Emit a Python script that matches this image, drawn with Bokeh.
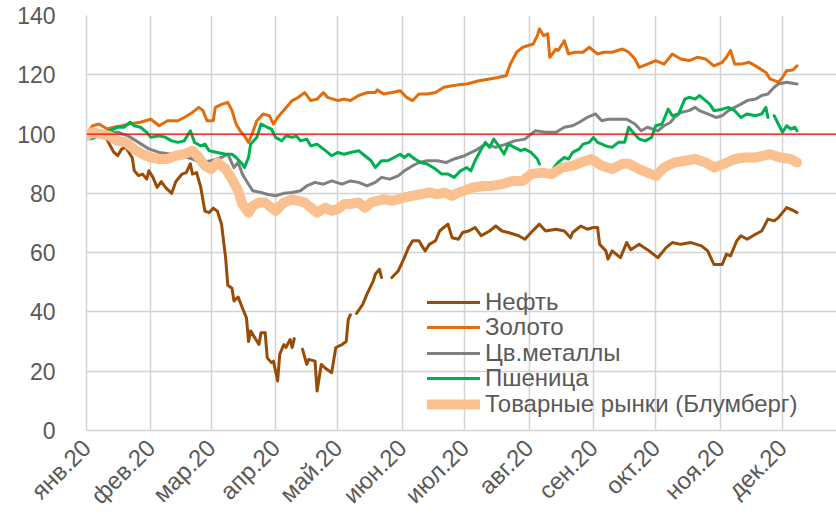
import math
import numpy as np
import pandas as pd
from bokeh.plotting import figure
from bokeh.models import FixedTicker, Span, Range1d, Legend, LegendItem
from bokeh.embed import file_html
from bokeh.resources import INLINE

NAN = float("nan")
START = "2020-01-01"

month_labels = ["янв.20", "фев.20", "мар.20", "апр.20", "май.20", "июн.20",
                "июл.20", "авг.20", "сен.20", "окт.20", "ноя.20", "дек.20"]
y_ticks = [0, 20, 40, 60, 80, 100, 120, 140]

names = ["Нефть", "Золото", "Цв.металлы", "Пшеница", "Товарные рынки (Блумберг)"]

# day offsets from 1 Jan 2020 and index values
oil_day = [0, 6, 10, 13, 15, 17, 19, 22, 23, 25, 27, 29, 30, 32, 34, 36, 38, 41, 43, 46, 48, 50, 51, 53, 55, 57, 59, 61, 63, 65,
           67, 68, 70, 71, 73, 75, 77, 78, 79, 81, 83, 84, 86, 87, 89, 90, 92, 93, 95, 96, 98, 99, 100, 101, 104, 106, 107, 110,
           111, 113, 115, 118, 120, 123, 125, 126, 127, 128, 130, 133, 135, 138, 139, 141, 142, 143, 147, 150, 153, 155, 157, 160,
           161, 163, 165, 168, 170, 172, 174, 176, 179, 181, 184, 187, 190, 194, 197, 200, 203, 208, 211, 214, 218, 221, 226, 230,
           233, 234, 238, 241, 244, 246, 247, 250, 251, 253, 257, 260, 262, 266, 270, 275, 279, 282, 286, 291, 296, 299, 302, 306,
           308, 310, 313, 315, 318, 322, 325, 328, 331, 333, 337, 340, 342]
oil = [100, 101, 98, 94, 92.7, 95, 95.5, 92, 87.6, 86, 86.5, 84.8, 87.6, 85.4, 82, 84, 82, 80, 84, 86.5, 87, 90, 86.5, 87, 82, 74,
       73.5, 75, 74, 69.6, 58, 49, 48, 43.7, 45, 41.4, 38, 30, 33.6, 31.3, 29, 33, 33, 24.5, 22.9, 23.4, 16.7, 25.7, 29, 28, 30.7,
       28, 31, NAN, 27.4, 22.3, 24, 23.4, 13.3, 22.3, 21, 19.5, 28, 29, 30, 37.5, 39, NAN, 39.5, 42.6, 46, 50.4, 52.7, 54.4, 51.6,
       NAN, 51.6, 53.8, 58.3, 61.7, 64, 64, 62.8, 60.6, 62.8, 64, 67.3, 68.5, 69.6, 65, 64.5, 66.8, 67.3, 68.5, 65.7, 67.3, 69,
       67.3, 66.8, 65.7, 64.5, 66.8, 69.6, 67.3, 67.9, 67.3, 65, 66.8, 69, 67.9, 68.5, 68.5, 62.8, 60.6, 57.8, 60.6, 58.3, 63.4,
       61, 62.8, 61, 58.3, 61.7, 63.4, 62.8, 63.4, 62.3, 60.6, 56, 56, 59.5, 58.9, 64, 65.7, 64.5, 66.2, 67.3, 71.3, 70.7, 71.8,
       75.2, 74.3, 73.5]

gold_day = [0, 3, 6, 10, 13, 17, 22, 26, 31, 35, 39, 44, 47, 51, 54, 56, 58, 61, 62, 65, 68, 70, 72, 74, 76, 78, 80, 82, 85, 88,
            90, 92, 95, 99, 102, 105, 108, 111, 114, 116, 121, 124, 127, 131, 135, 139, 140, 143, 147, 151, 154, 157, 160, 164,
            168, 172, 176, 179, 183, 189, 194, 198, 202, 204, 207, 210, 215, 217, 218, 220, 222, 223, 226, 227, 230, 232, 235,
            239, 242, 246, 249, 253, 258, 261, 264, 266, 270, 274, 278, 282, 286, 290, 294, 298, 302, 306, 308, 310, 312, 315,
            319, 322, 327, 329, 333, 335, 337, 340, 342]
gold = [100, 102.8, 103.4, 101.7, 102.3, 102.8, 103.6, 104, 105, 102.8, 104.5, 104.5, 105.6, 107.3, 109, 108, 104.5, 104.5, 109,
        110, 110.7, 108, 103.4, 101, 99.4, 97.2, 100.6, 104.5, 106.8, 106.2, 103.4, 105.6, 108, 111.3, 112.4, 114, 111.3, 111.8,
        114, 112.4, 111.3, 111.8, 111.3, 113, 114, 114, 114.9, 113.5, 114, 114.6, 112.4, 111.3, 113.5, 113.5, 114, 115.8, 116.3,
        116.6, 116.9, 118, 118.6, 119.1, 119.7, 123.6, 127.6, 129.3, 130.4, 133.2, 135.5, 133.2, 133.8, 125.9, 128.7, 128.2,
        131.5, 127, 127.6, 127.6, 129.3, 127, 127.6, 127.6, 128.7, 127.6, 125.3, 122.5, 123.6, 124.8, 123.6, 127, 125.3, 124.8,
        125.9, 125.3, 123, 124.2, 125.9, 128.2, 123.6, 123.6, 124.2, 123, 120.8, 118.6, 117.5, 119.1, 121.4, 121.6, 123]

metals_day = [0, 2, 6, 10, 15, 20, 25, 30, 35, 41, 46, 51, 55, 60, 65, 68, 71, 73, 75, 78, 80, 84, 87, 91, 95, 99, 103, 106, 110,
              114, 118, 123, 127, 131, 135, 139, 142, 146, 150, 153, 157, 160, 164, 169, 173, 177, 182, 187, 192, 197, 202, 206,
              211, 216, 221, 226, 230, 234, 237, 241, 245, 248, 251, 256, 260, 264, 267, 270, 275, 278, 281, 283, 286, 290, 293,
              295, 299, 303, 306, 309, 312, 315, 318, 322, 325, 328, 331, 333, 337, 342]
metals = [98.9, 98.3, 99.4, 100.6, 100.6, 99.4, 97.2, 95, 93.8, 93.2, 92.7, 91.6, 90.4, 91, 92.1, 93.2, 88.7, 90.4, 86.5, 83.1,
          80.9, 80.3, 79.7, 79.2, 80, 80.3, 80.9, 82.5, 83.7, 83.1, 84.2, 83.1, 84.2, 83.7, 82.5, 83.7, 85.4, 84.8, 85.9, 87.6,
          89.3, 90.4, 91, 91, 90.4, 91.6, 92.7, 94.4, 96.6, 95.5, 96.6, 97.7, 98.3, 101.1, 100.6, 100.6, 102.3, 102.8, 103.9,
          105.6, 106.8, 104.5, 105, 105, 105, 103.4, 101.1, 102.3, 101.1, 102.8, 103.9, 105.6, 107.3, 107.9, 109, 107.9, 106.8,
          105.6, 106.2, 107.9, 109, 110.1, 111.3, 111.8, 113, 113.5, 115.8, 116.9, 117.5, 116.9]

wheat_day = [0, 3, 7, 11, 15, 18, 21, 23, 26, 29, 31, 35, 38, 41, 44, 47, 50, 52, 55, 57, 59, 63, 67, 70, 72, 75, 76, 78, 79, 82,
             84, 87, 89, 91, 94, 96, 99, 101, 103, 106, 108, 111, 115, 118, 121, 124, 127, 131, 134, 137, 139, 142, 145, 148,
             151, 153, 155, 158, 161, 164, 168, 171, 174, 177, 180, 183, 185, 187, 190, 192, 194, 196, 199, 201, 203, 206, 209,
             211, 214, 217, 218, 219, 225, 227, 230, 232, 234, 237, 239, 242, 244, 246, 250, 253, 256, 259, 261, 263, 266, 269,
             272, 274, 277, 280, 282, 285, 288, 290, 293, 295, 298, 300, 302, 306, 309, 312, 315, 318, 322, 325, 327, 328, 329,
             331, 333, 335, 337, 339, 341, 342]
wheat = [98.3, 98.9, 100.6, 101.1, 102.3, 102.3, 104, 102.8, 102.3, 100.6, 98.9, 99.4, 98.9, 97.7, 97.2, 97.7, 101.1, 97.2, 96,
         96.6, 94.4, 93.8, 93.2, 93.2, 92.1, 89.9, 88.7, 92.1, 96.6, 98.9, 103.4, 102.3, 101.7, 98.9, 97.7, 99.4, 98.9, 99.4,
         97.7, 98.3, 96, 96.6, 94.4, 92.7, 93.8, 93.2, 93.8, 94.4, 92.7, 91, 88.7, 91, 91, 92.1, 93.2, 92.1, 93.2, 91.6, 90.4,
         89.9, 88.2, 86.5, 86.5, 85.4, 87.6, 88.7, 87.6, 91, 94.9, 97.2, 95.5, 98.3, 95.5, 93.2, 96.6, 95.5, 94.4, 94.9, 93.8,
         91.6, 89.9, NAN, 88.7, 90.4, 92.1, 91.6, 93.8, 94.9, 96.6, 97.2, 98.9, 97.2, 96, 95.5, 97.2, 97.2, 102.3, 100.6, 98.3,
         97.7, 98.9, 102.8, 103.4, 108.4, 106.2, 106.8, 111.8, 112.4, 111.8, 113, 111.3, 110.1, 107.9, 108.4, 109, 107.9, 105.6,
         106.8, 106.2, 106.8, 109, 105.6, NAN, 106.2, 103.4, 100.6, 102.8, 101.7, 102.3, 101.1]

bbg_day = [0, 3, 7, 11, 15, 19, 23, 27, 31, 35, 39, 43, 47, 51, 54, 57, 60, 63, 67, 70, 73, 75, 78, 80, 83, 86, 89, 91, 95, 99,
           102, 105, 108, 111, 115, 118, 121, 124, 127, 131, 134, 137, 140, 143, 147, 150, 153, 157, 161, 165, 169, 172, 176,
           179, 182, 186, 191, 195, 200, 205, 210, 214, 219, 224, 229, 234, 238, 243, 248, 253, 258, 261, 266, 270, 274, 278,
           283, 288, 293, 298, 302, 307, 312, 317, 322, 326, 329, 334, 339, 342]
bbg = [99.4, 100.6, 100, 99.4, 97.7, 97.2, 94.9, 93.2, 92.1, 91.6, 91.6, 92.7, 93.2, 94.4, 92.1, 89.3, 88.2, 90.4, 88.2, 84.8,
       80.9, 76.4, 73.5, 75.8, 76.9, 76.9, 75.2, 74.1, 76.9, 78, 77.5, 76.9, 75.2, 73.5, 75.2, 74.1, 74.7, 76.4, 76.4, 76.9, 75.2,
       76.9, 77.5, 78, 77.5, 78, 78.6, 79.2, 79.7, 80.3, 79.7, 80.3, 79.2, 80.3, 80.9, 82, 82.5, 82.5, 83.1, 84.2, 84.2, 86.5,
       87, 86.5, 88.7, 89.3, 90.4, 91.6, 89.3, 88.2, 90, 90, 88.2, 87, 85.9, 88.7, 90.4, 91, 91.6, 90.4, 88.7, 90, 91.6, 92.1,
       92.1, 92.7, 93.2, 92.1, 91.6, 90.4]

base = pd.Timestamp(START)


def to_dates(days):
    return base + pd.to_timedelta(np.array(days, dtype=float), unit="D")


month_starts = pd.date_range(START, periods=12, freq="MS")
month_ms = [float(t.value // 10**6) for t in month_starts]

p = figure(width=836, height=522, x_axis_type="datetime", output_backend="svg",
           toolbar_location=None, min_border_left=86, min_border_right=0,
           min_border_top=15, min_border_bottom=92)
p.x_range = Range1d(base, base + pd.Timedelta(days=361))
p.y_range = Range1d(0, 140)
p.outline_line_color = None
p.background_fill_color = "white"
p.border_fill_color = "white"

grid_col = "#D3D3D3"
p.xgrid.ticker = FixedTicker(ticks=month_ms)
p.xgrid.grid_line_color = grid_col
p.xgrid.grid_line_width = 1.5
p.ygrid.grid_line_color = grid_col
p.ygrid.grid_line_width = 1.5

p.xaxis.ticker = FixedTicker(ticks=month_ms)
p.xaxis.major_label_overrides = {m: lab for m, lab in zip(month_ms, month_labels)}
p.xaxis.major_label_orientation = math.pi / 4
p.yaxis.ticker = FixedTicker(ticks=y_ticks)
for ax in (p.xaxis, p.yaxis):
    ax.axis_line_color = grid_col
    ax.axis_line_width = 1.5
    ax.major_tick_line_color = None
    ax.minor_tick_line_color = None
    ax.major_label_text_color = "#595959"
    ax.major_label_text_font = "Liberation Sans"
p.yaxis.major_label_text_font_size = "23px"
p.xaxis.major_label_text_font_size = "24px"
p.xaxis.major_label_text_line_height = 1.0
p.xaxis.major_label_standoff = 7
p.yaxis.major_label_standoff = 25

p.add_layout(Span(location=100, dimension="width", line_color="#FF0000", line_width=1.2))

colors = ["#994C06", "#E46C0A", "#808080", "#00B050", "#FAC090"]
widths = [3, 3, 3, 3, 10]
series = [(oil_day, oil), (gold_day, gold), (metals_day, metals), (wheat_day, wheat), (bbg_day, bbg)]
renderers = []
for (d, v), c, w in zip(series, colors, widths):
    renderers.append(p.line(to_dates(d), np.array(v, dtype=float), line_color=c, line_width=w,
                            line_join="round", line_cap="round"))

# one single-row legend per series, stacked with a tight row pitch
legend_rows_y = [114, 89, 63, 38, 12]
for name, r, ly in zip(names, renderers, legend_rows_y):
    lg = Legend(items=[LegendItem(label=name, renderers=[r])], location=(341, ly))
    lg.label_text_font = "Liberation Sans"
    lg.label_text_font_size = "24px"
    lg.label_text_color = "#595959"
    lg.glyph_width = 53
    lg.glyph_height = 22
    lg.label_height = 22
    lg.label_standoff = 5
    lg.spacing = 0
    lg.padding = 0
    lg.margin = 0
    lg.border_line_color = None
    lg.background_fill_alpha = 0
    p.add_layout(lg)

open("out.html", "w").write(file_html(p, INLINE))
